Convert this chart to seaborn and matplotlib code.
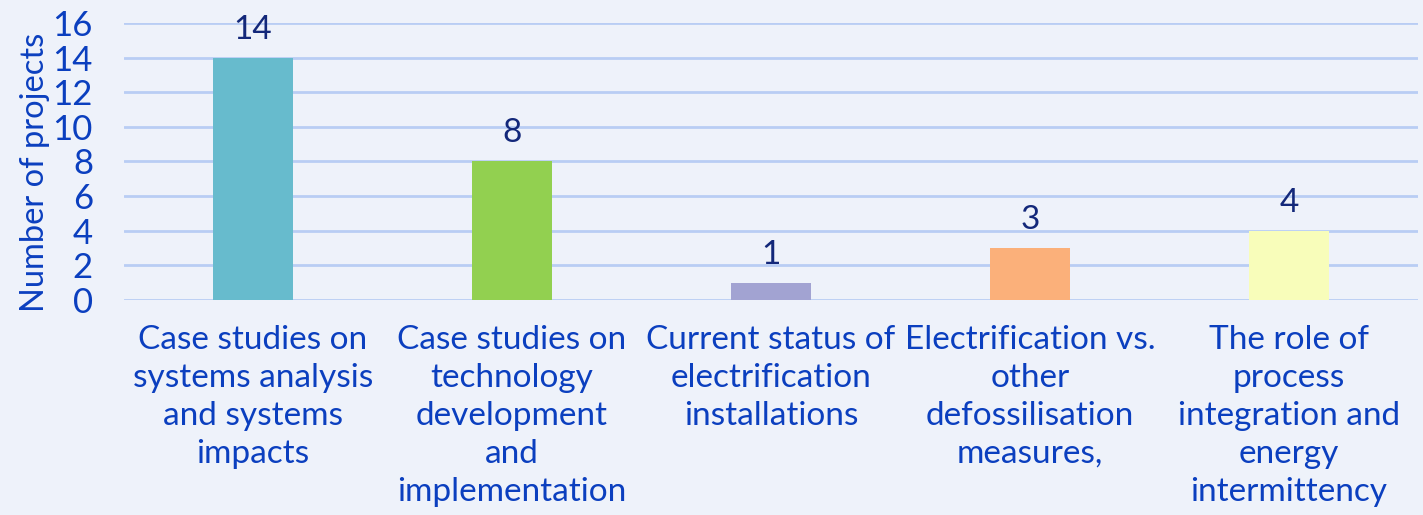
import matplotlib
matplotlib.use("Agg")
import matplotlib.pyplot as plt
import seaborn as sns
import pandas as pd

# chart data
categories = [
    "Case studies on\nsystems analysis\nand systems\nimpacts",
    "Case studies on\ntechnology\ndevelopment\nand\nimplementation",
    "Current status of\nelectrification\ninstallations",
    "Electrification vs.\nother\ndefossilisation\nmeasures,",
    "The role of\nprocess\nintegration and\nenergy\nintermittency",
]
projects = [14, 8, 1, 3, 4]
bar_colors = ["#67BBCD", "#92D050", "#A2A3D2", "#FBB07A", "#F8FDBA"]
y_ticks = [0, 2, 4, 6, 8, 10, 12, 14, 16]

bg = "#EEF2FA"
blue = "#0B3FBF"
navy = "#13287A"
grid = "#B9CDF4"

sns.set_theme(style="white")
plt.rcParams["font.family"] = ["Lato", "DejaVu Sans"]

df = pd.DataFrame({"category": categories, "projects": projects})

fig = plt.figure(figsize=(14.23, 5.15), dpi=100, facecolor=bg)
ax = fig.add_axes([0.0868, 0.4175, 0.9100, 0.538])
ax.set_facecolor(bg)

sns.barplot(data=df, x="category", y="projects", hue="category",
            palette=bar_colors, width=0.31, saturation=1, legend=False,
            linewidth=0, edgecolor="none", ax=ax, zorder=3)

ax.set_ylim(0, 16)
ax.set_yticks(y_ticks)
for t in y_ticks:
    ax.axhline(t, color=grid, lw=2, zorder=1)

for i, v in enumerate(projects):
    ax.text(i, v + 0.75, str(v), ha="center", va="bottom", fontsize=24, color=navy)

ax.tick_params(axis="y", labelsize=25, labelcolor=blue, length=0, pad=22)
ax.tick_params(axis="x", labelsize=24, labelcolor=blue, length=0, pad=18)
for lab in ax.get_xticklabels():
    lab.set_linespacing(1.33)

ax.set_xlabel("")
ax.set_ylabel("Number of projects", fontsize=23.5, color=blue)
ax.yaxis.set_label_coords(-0.057, 0.46)
ax.set_xlim(-0.5, 4.5)
sns.despine(ax=ax, left=True, bottom=True)

fig.savefig("out.png", dpi=100, facecolor=bg)
